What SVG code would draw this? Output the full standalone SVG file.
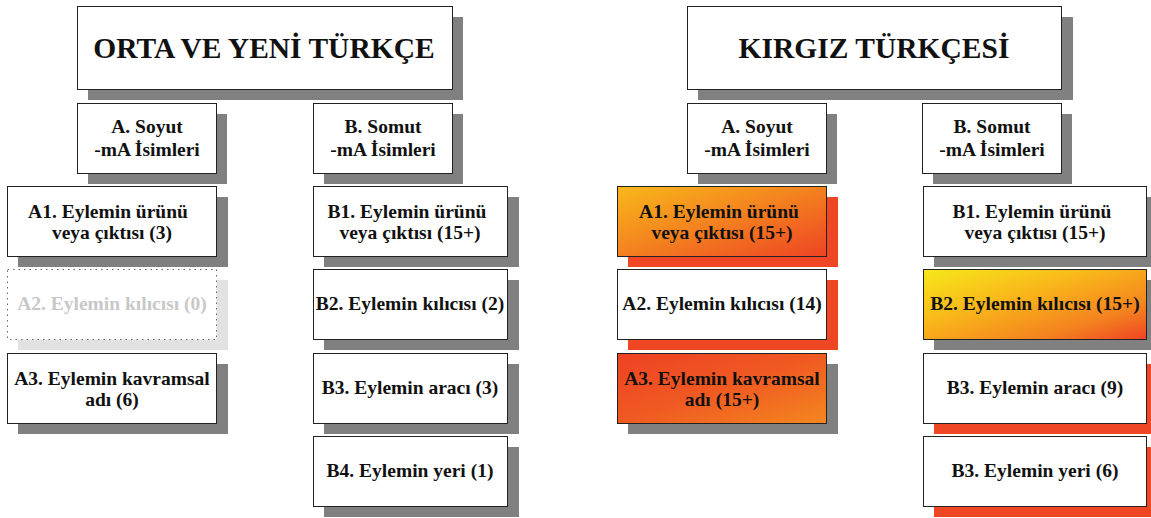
<svg xmlns="http://www.w3.org/2000/svg" width="1151" height="518" viewBox="0 0 1151 518">
<style>
.box{fill:#fff;stroke:#222;stroke-width:1}
.sh{fill:#808080}
.shr{fill:#ef4723}
.t{font-family:"Liberation Serif","Times New Roman",serif;font-weight:bold;font-size:19.5px;fill:#111;text-anchor:middle}
.title{font-size:29.5px}
.faint{fill:#c8c8c8}
</style>
<defs>
<linearGradient id="gA1" x1="0" y1="0" x2="1" y2="1">
<stop offset="0" stop-color="#f8b81a"/>
<stop offset="0.45" stop-color="#f4861f"/>
<stop offset="1" stop-color="#ee4423"/>
</linearGradient>
<linearGradient id="gA3" x1="0" y1="0" x2="1" y2="1">
<stop offset="0" stop-color="#ee4223"/>
<stop offset="0.5" stop-color="#f05a22"/>
<stop offset="1" stop-color="#f4871f"/>
</linearGradient>
<linearGradient id="gB2" x1="0" y1="0" x2="1" y2="1">
<stop offset="0" stop-color="#f6e81a"/>
<stop offset="0.4" stop-color="#f9b61a"/>
<stop offset="0.75" stop-color="#f4821f"/>
<stop offset="1" stop-color="#ee4423"/>
</linearGradient>
</defs>

<g id="title-left">
<rect class="sh" x="88" y="17" width="375" height="83"/>
<rect class="box" x="77.5" y="6.5" width="375" height="83"/>
<text class="t title" x="264" y="58">ORTA VE YENİ TÜRKÇE</text>
</g>
<g id="left-A">
<rect class="sh" x="88" y="114" width="139" height="70"/>
<rect class="box" x="77.5" y="103.5" width="139" height="70"/>
<text class="t" x="147" y="133">A. Soyut</text>
<text class="t" x="147" y="156">-mA İsimleri</text>
</g>
<g id="left-B">
<rect class="sh" x="324" y="114" width="139" height="70"/>
<rect class="box" x="313.5" y="103.5" width="139" height="70"/>
<text class="t" x="383" y="133">B. Somut</text>
<text class="t" x="383" y="156">-mA İsimleri</text>
</g>
<g id="left-A1">
<rect class="sh" x="18" y="197" width="210" height="70"/>
<rect class="box" x="7.5" y="186.5" width="209" height="70"/>
<text class="t" x="108" y="218">A1. Eylemin ürünü</text>
<text class="t" x="112" y="239">veya çıktısı (3)</text>
</g>
<g id="left-A2">
<rect x="18" y="280" width="210" height="70" fill="#e2e2e2"/>
<rect x="7.5" y="269.5" width="209" height="70" fill="#fff" stroke="#666" stroke-width="1" stroke-dasharray="1.5 4"/>
<text class="t faint" x="112" y="310">A2. Eylemin kılıcısı (0)</text>
</g>
<g id="left-A3">
<rect class="sh" x="18" y="364" width="210" height="70"/>
<rect class="box" x="7.5" y="353.5" width="209" height="70"/>
<text class="t" x="112" y="385">A3. Eylemin kavramsal</text>
<text class="t" x="112" y="406">adı (6)</text>
</g>
<g id="left-B1">
<rect class="sh" x="324" y="197" width="195" height="70"/>
<rect class="box" x="313.5" y="186.5" width="194" height="70"/>
<text class="t" x="407" y="218">B1. Eylemin ürünü</text>
<text class="t" x="410" y="239">veya çıktısı (15+)</text>
</g>
<g id="left-B2">
<rect class="sh" x="324" y="280" width="195" height="70"/>
<rect class="box" x="313.5" y="269.5" width="194" height="70"/>
<text class="t" x="410" y="310">B2. Eylemin kılıcısı (2)</text>
</g>
<g id="left-B3">
<rect class="sh" x="324" y="364" width="195" height="70"/>
<rect class="box" x="313.5" y="353.5" width="194" height="70"/>
<text class="t" x="410" y="394">B3. Eylemin aracı (3)</text>
</g>
<g id="left-B4">
<rect class="sh" x="324" y="447" width="195" height="70"/>
<rect class="box" x="313.5" y="436.5" width="194" height="70"/>
<text class="t" x="410" y="477">B4. Eylemin yeri (1)</text>
</g>

<g id="title-right">
<rect class="sh" x="698" y="17" width="375" height="83"/>
<rect class="box" x="687.5" y="6.5" width="374" height="83"/>
<text class="t title" x="874" y="58">KIRGIZ TÜRKÇESİ</text>
</g>
<g id="right-A">
<rect class="sh" x="698" y="114" width="139" height="70"/>
<rect class="box" x="687.5" y="103.5" width="139" height="70"/>
<text class="t" x="757" y="133">A. Soyut</text>
<text class="t" x="757" y="156">-mA İsimleri</text>
</g>
<g id="right-B">
<rect class="sh" x="933" y="114" width="139" height="70"/>
<rect class="box" x="922.5" y="103.5" width="139" height="70"/>
<text class="t" x="992" y="133">B. Somut</text>
<text class="t" x="992" y="156">-mA İsimleri</text>
</g>
<g id="right-A1">
<rect class="shr" x="628" y="197" width="210" height="70"/>
<rect class="box" x="617.5" y="186.5" width="209" height="70" style="fill:url(#gA1)"/>
<text class="t" x="719" y="218">A1. Eylemin ürünü</text>
<text class="t" x="722" y="239">veya çıktısı (15+)</text>
</g>
<g id="right-A2">
<rect class="shr" x="628" y="280" width="210" height="70"/>
<rect class="box" x="617.5" y="269.5" width="209" height="70"/>
<text class="t" x="722" y="310">A2. Eylemin kılıcısı (14)</text>
</g>
<g id="right-A3">
<rect class="sh" x="628" y="364" width="210" height="70"/>
<rect class="box" x="617.5" y="353.5" width="209" height="70" style="fill:url(#gA3)"/>
<text class="t" x="722" y="385">A3. Eylemin kavramsal</text>
<text class="t" x="722" y="406">adı (15+)</text>
</g>
<g id="right-B1">
<rect class="sh" x="934" y="197" width="224" height="70"/>
<rect class="box" x="923.5" y="186.5" width="223" height="70"/>
<text class="t" x="1032" y="218">B1. Eylemin ürünü</text>
<text class="t" x="1035" y="239">veya çıktısı (15+)</text>
</g>
<g id="right-B2">
<rect class="sh" x="934" y="280" width="224" height="70"/>
<rect class="box" x="923.5" y="269.5" width="223" height="70" style="fill:url(#gB2)"/>
<text class="t" x="1035" y="310">B2. Eylemin kılıcısı (15+)</text>
</g>
<g id="right-B3">
<rect class="shr" x="934" y="364" width="224" height="70"/>
<rect class="box" x="923.5" y="353.5" width="223" height="70"/>
<text class="t" x="1035" y="394">B3. Eylemin aracı (9)</text>
</g>
<g id="right-B4">
<rect class="shr" x="934" y="447" width="224" height="70"/>
<rect class="box" x="923.5" y="436.5" width="223" height="70"/>
<text class="t" x="1035" y="477">B3. Eylemin yeri (6)</text>
</g>
</svg>
